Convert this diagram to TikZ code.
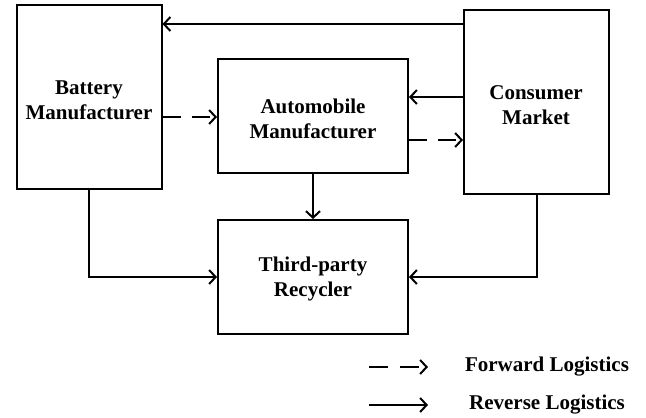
\documentclass[tikz,border=0pt]{standalone}
\usepackage{fontspec}
\setmainfont{Liberation Serif}
\usetikzlibrary{arrows.meta}
\begin{document}
\begin{tikzpicture}[x=1pt,y=-1pt,
  box/.style={draw,line width=2pt,inner sep=0pt},
  lab/.style={font=\fontsize{21}{25}\selectfont\bfseries,align=center},
  arr/.style={line width=2pt,-{Straight Barb[length=6.5pt,width=14pt,line width=2pt]}},
  fwd/.style={arr,dash pattern=on 18pt off 11pt}]
\useasboundingbox (0,0) rectangle (646,418);
\node[box,minimum width=145pt,minimum height=184pt] (bat) at (89,97) {};
\node[box,minimum width=190pt,minimum height=114pt] (auto) at (313,116) {};
\node[box,minimum width=145pt,minimum height=184pt] (con) at (536.5,102) {};
\node[box,minimum width=190pt,minimum height=114pt] (rec) at (313,277) {};
\node[lab] (batl) at (89,100) {Battery\\Manufacturer};
\node[lab] (autol) at (313,119) {Automobile\\Manufacturer};
\node[lab] (conl) at (536,105) {Consumer\\Market};
\node[lab] (recl) at (313,279) {Third-party\\Recycler};
% connectors
\draw[arr] (con.west |- 0,24) -- (bat.east |- 0,24);
\draw[fwd] (bat.east |- 0,117) -- (auto.west |- 0,117);
\draw[arr] (con.west |- 0,97) -- (auto.east |- 0,97);
\draw[fwd] (auto.east |- 0,140) -- (con.west |- 0,140);
\draw[arr] (auto.south) -- (rec.north);
\draw[arr] (bat.south) |- (rec.west);
\draw[arr] (con.south) |- (rec.east);
% legend
\coordinate (f1) at (369,367);
\coordinate (f2) at (428,367);
\coordinate (r1) at (369,405);
\coordinate (r2) at (428,405);
\draw[fwd,dash pattern=on 19pt off 12pt] (f1) -- (f2);
\draw[arr] (r1) -- (r2);
\node[lab] (fl) at (547,367) {Forward Logistics};
\node[lab] (rl) at (547,405) {Reverse Logistics};
\end{tikzpicture}
\end{document}
